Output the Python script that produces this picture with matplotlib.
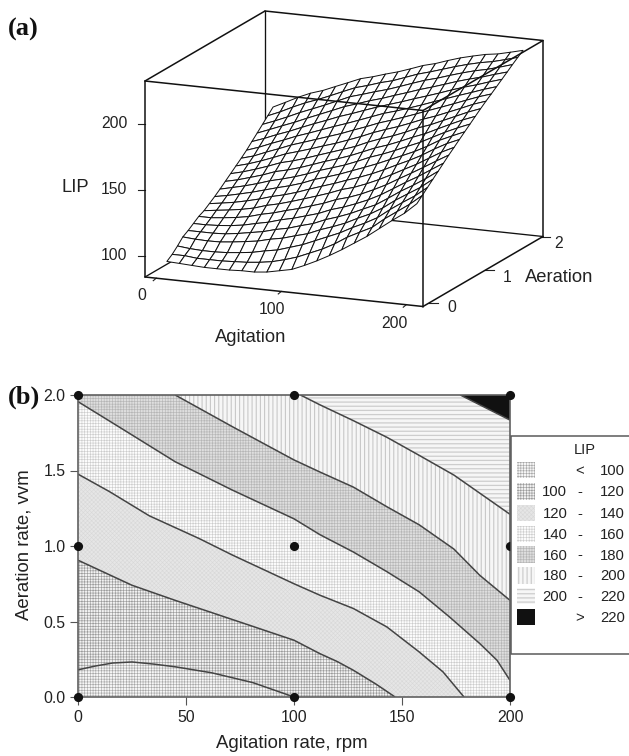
import numpy as np
import matplotlib
matplotlib.use("Agg")
import matplotlib.pyplot as plt
from matplotlib.patches import Polygon, Rectangle
from matplotlib.collections import PolyCollection

W, H = 629, 756
plt.rcParams['font.family'] = ['Liberation Sans', 'DejaVu Sans']

# ---- data: surface (a). one list per agitation value, aeration 0..2 in 0.1 steps
agitation_grid = list(range(0, 201, 10))
aeration_grid = [i / 10 for i in range(21)]
lip_surface = [
 [92,95,99,103.5,106,109,112,114,117,120,123.3,126.8,130.3,133.8,137.3,141,145.2,149.3,153.5,157.7,162],
 [91.5,95,98,102.8,106,109,112,115.3,118.4,121.8,125.5,129,132.7,136.4,140,144.3,148.6,153,157.2,161.7,166.6],
 [91,94,97.5,102.5,106,109.5,113,116.5,120,124,127.8,131.8,135.7,139.6,143.9,148.2,152.5,156.8,161.2,166.3,171.4],
 [90.5,94,97.5,102.7,106.5,110.4,114.2,118,122.1,126.3,130.5,134.7,139,143.2,147.5,151.8,156,160.5,165.5,170.5,175.5],
 [90.5,94,98,103.7,107.8,111.8,115.9,120,124.5,129,133.6,138.2,142.6,147,151.3,155.7,160,164.6,169.3,174,178.6],
 [90.5,94.5,99,105,109.5,114,118.6,123,127.4,131.7,136,140.5,145,149.8,154.4,159,163.8,168.5,173.2,177.9,182.6],
 [91,95,100.2,106.4,111.2,116,120.7,125.2,129.7,134.2,138.7,143.3,148,152.8,157.6,162.5,167.4,172.4,177.3,182,186.5],
 [91,96,102.3,108.8,113.8,118.8,123.5,128,132.6,137.2,141.9,146.6,151.3,156,160.8,166,171.2,176.4,181.5,186,190.5],
 [92,97.5,104,110.6,115.8,121,126,131,136,141,145.5,150,154.5,159,164,169.3,174.4,179.5,184.3,188.7,193],
 [94,100,107,113.4,118.7,123.8,129,134.1,139.2,143.9,148.5,153,157.7,162.5,167.7,172.8,177.9,182.8,187.3,191.8,196],
 [96,103,110,116,121.3,126.6,132,137.3,142.3,147,151.6,156.3,161,166.1,171.2,176.4,181.3,185.6,190,194.3,198.7],
 [100,107,114,120,125.3,130.5,135.8,141,145.8,150.6,155.4,160.2,165.2,170.1,175,180,184.4,188.9,193.3,197.8,202],
 [104.5,111,118,123.3,128.4,133.4,138.5,143.7,149,154.2,159.5,164.2,168.8,173.5,178.1,182.8,187.4,192,196.7,201.3,205.5],
 [109.5,116,122,127,132,137,142,147.4,152.6,157.9,162.8,167.4,172,176.7,181.4,186,190.7,195.3,200,204,208],
 [115,122,127,131.7,136.3,141,146.3,151.6,156.8,162,166.6,171.2,175.8,180.4,184.9,189.3,193.8,198.2,202.6,207,211.3],
 [121,126.8,131.4,136,140.5,145.8,151,156.3,161.4,166,170.7,175.3,180,184.3,188.5,192.8,197,201.3,205.7,210,214.3],
 [127,131.5,136.5,141.5,146.5,151.5,156.5,161.3,165.8,170.2,174.7,179,183.4,187.7,192,196.2,200.4,204.5,208.6,212.7,216.7],
 [134,139,143.6,148.3,152.8,157.3,161.8,166.2,170.7,175.1,179.6,183.6,187.6,191.6,195.6,199.6,203.5,207.3,211.2,215,218.9],
 [141,145.5,150,154.2,158.3,162.7,167.3,171.8,176.4,180.7,184.4,188.1,191.8,195.5,199.3,202.8,206.3,209.8,213.3,216.8,220.3],
 [147.5,152,156,160,164.3,168.7,173,177.4,181.5,185,188.7,192.4,196,199.6,202.9,206.2,209.5,212.8,216,219.3,222.6],
 [155.8,159.6,163.4,167.2,170.9,174.7,178.5,182,185.6,189.1,192.6,196.1,199.6,202.9,206,209.2,212.4,215.6,218.9,222,225],
]
agitation_ticks_a = [0, 100, 200]
aeration_ticks_a = [0, 1, 2]
lip_ticks_a = [100, 150, 200]

# ---- data: contours (b)
c100_x = [0, 8, 16, 25, 35, 45, 62, 81, 92, 100]
c100_y = [0.18, 0.205, 0.225, 0.232, 0.218, 0.20, 0.16, 0.095, 0.04, 0.0]
c120_x = [0, 25, 45, 71.5, 100, 112, 120, 127.5, 138, 146.8]
c120_y = [0.906, 0.74, 0.64, 0.513, 0.376, 0.287, 0.235, 0.177, 0.085, 0.0]
c140_x = [0, 14.6, 33, 56, 71.5, 100, 112, 127.5, 143, 158, 169, 178.7]
c140_y = [1.476, 1.36, 1.2, 1.05, 0.94, 0.75, 0.674, 0.586, 0.464, 0.298, 0.166, 0.0]
c160_x = [0, 17.7, 45, 71.5, 100, 112, 127.5, 143, 158, 172, 186, 194, 200]
c160_y = [1.956, 1.80, 1.558, 1.37, 1.18, 1.075, 0.96, 0.83, 0.696, 0.53, 0.354, 0.243, 0.11]
c180_x = [45, 71.5, 100, 112, 127.5, 143, 158, 174, 186, 200]
c180_y = [2.0, 1.79, 1.57, 1.49, 1.39, 1.26, 1.14, 0.98, 0.806, 0.64]
c200_x = [103, 112, 127.5, 143, 158, 174, 189.5, 200]
c200_y = [2.0, 1.935, 1.83, 1.72, 1.6, 1.47, 1.315, 1.21]
c220_x = [177, 200]
c220_y = [2.0, 1.834]
contours = [(c100_x, c100_y), (c120_x, c120_y), (c140_x, c140_y), (c160_x, c160_y),
            (c180_x, c180_y), (c200_x, c200_y), (c220_x, c220_y)]

design_x = [0, 100, 200, 0, 100, 200, 0, 100, 200]
design_y = [0, 0, 0, 1, 1, 1, 2, 2, 2]
xticks_b = [0, 50, 100, 150, 200]
yticks_b = [0.0, 0.5, 1.0, 1.5, 2.0]
legend_low = ['', '100', '120', '140', '160', '180', '200', '']
legend_sep = ['<', '-', '-', '-', '-', '-', '-', '>']
legend_high = ['100', '120', '140', '160', '180', '200', '220', '220']

# band styles: face, hatch colour, hatch, hatch line width
band_styles = [
    ('#f6f6f6', '#a6a6a6', '+' * 6, 0.42),
    ('#f2f2f2', '#9c9c9c', '+' * 6, 0.45),
    ('#e6e6e6', '#d8d8d8', 'x' * 8, 0.40),
    ('#fcfcfc', '#cccccc', '+' * 6, 0.42),
    ('#dedede', '#b6b6b6', '+' * 6, 0.45),
    ('#f6f6f6', '#c8c8c8', '|' * 4, 0.80),
    ('#f6f6f6', '#cdcdcd', '-' * 4, 0.90),
    ('#111111', '#111111', None, 0.4),
]


def band_kwargs(i):
    face, hc, hatch, hlw = band_styles[i]
    plt.rcParams['hatch.linewidth'] = hlw
    return dict(facecolor=face, edgecolor=hc, hatch=hatch, linewidth=0)


fig = plt.figure(figsize=(W / 100, H / 100), dpi=100, facecolor='white')

# ================= panel (a): orthographic box in a pixel-scaled overlay axes
ov = fig.add_axes([0, 0, 1, 1])
ov.set_xlim(0, W)
ov.set_ylim(H, 0)
ov.axis('off')

XR = (-9.0, 213.4)
YR = (-0.2, 2.06)
ZR = (84.0, 232.4)


def project(x, y, z):
    u = (np.asarray(x, float) - XR[0]) / (XR[1] - XR[0])
    v = (np.asarray(y, float) - YR[0]) / (YR[1] - YR[0])
    w = (np.asarray(z, float) - ZR[0]) / (ZR[1] - ZR[0])
    return 145 + 278 * u + 120 * v, 277 + 29.5 * u - 70 * v - 196 * w


def edge(a, b, **kw):
    xa, ya = project(*a)
    xb, yb = project(*b)
    ov.plot([xa, xb], [ya, yb], color='#111111', lw=kw.get('lw', 1.1), zorder=kw.get('z', 5),
            solid_capstyle='round')


x0, x1 = XR
y0, y1 = YR
z0, z1 = ZR
# back edges, hidden by the surface
for a, b in [((x0, y1, z1), (x0, y1, z0)), ((x0, y1, z0), (x1, y1, z0)), ((x0, y0, z0), (x0, y1, z0))]:
    edge(a, b, z=1, lw=0.95)

# surface
Z = np.array(lip_surface)
AX, AY = np.meshgrid(agitation_grid, aeration_grid, indexing='ij')
PX, PY = project(AX, AY, Z)
cells = []
for j in range(Z.shape[1] - 2, -1, -1):
    for i in range(Z.shape[0] - 1):
        cells.append([(PX[i, j], PY[i, j]), (PX[i + 1, j], PY[i + 1, j]),
                      (PX[i + 1, j + 1], PY[i + 1, j + 1]), (PX[i, j + 1], PY[i, j + 1])])
ov.add_collection(PolyCollection(cells, facecolors='white', edgecolors='#111111', linewidths=0.72, zorder=2))

# visible box edges
for a, b in [((x0, y0, z1), (x1, y0, z1)), ((x0, y0, z1), (x0, y1, z1)), ((x0, y1, z1), (x1, y1, z1)),
             ((x1, y0, z1), (x1, y1, z1)), ((x0, y0, z0), (x0, y0, z1)), ((x1, y0, z0), (x1, y0, z1)),
             ((x1, y1, z0), (x1, y1, z1)), ((x0, y0, z0), (x1, y0, z0)), ((x1, y0, z0), (x1, y1, z0))]:
    edge(a, b)

# ticks
for v in lip_ticks_a:
    px, py = project(x0, y0, v)
    ov.plot([px - 7.5, px], [py, py], color='#222222', lw=0.8, zorder=4)
for v in agitation_ticks_a:
    px, py = project(v, y0, z0)
    ov.plot([px - 3, px], [py + 2.5, py], color='#222222', lw=0.8, zorder=4)
tick_span = (-0.1, 2.03)
xs, ys = project(x1, y0, z0)
xe, ye = project(x1, y1, z0)
for v in aeration_ticks_a:
    f = (v - tick_span[0]) / (tick_span[1] - tick_span[0])
    px, py = xs + f * (xe - xs), ys + f * (ye - ys)
    ov.plot([px, px + 9], [py, py], color='#222222', lw=0.8, zorder=4)

TICK = 11.3
LAB = 13.2
col = '#222222'
for v, yy in zip(lip_ticks_a, (256, 190, 124)):
    ov.text(127.5, yy, str(v), ha='right', va='center', fontsize=TICK, color=col)
for v, xx, yy in zip(agitation_ticks_a, (142, 272.5, 394), (296, 309, 324)):
    ov.text(xx, yy, str(v), ha='center', va='center', fontsize=TICK, color=col)
for v, xx, yy in zip(aeration_ticks_a, (452, 507, 558.5), (307, 277, 244)):
    ov.text(xx, yy, str(v), ha='center', va='center', fontsize=TICK, color=col)
ov.text(75, 187.5, 'LIP', ha='center', va='center', fontsize=LAB, color=col)
ov.text(250.5, 338, 'Agitation', ha='center', va='center', fontsize=LAB, color=col)
ov.text(559, 277.5, 'Aeration', ha='center', va='center', fontsize=LAB, color=col)
ov.text(8, 29, '(a)', ha='left', va='center', fontsize=19, fontweight='bold', family='Liberation Serif', color='#111111')
ov.text(8, 397.5, '(b)', ha='left', va='center', fontsize=19, fontweight='bold', family='Liberation Serif', color='#111111', zorder=20)

# ================= panel (b)
L, R, T, B = 78, 510, 395, 697
ax = fig.add_axes([L / W, 1 - B / H, (R - L) / W, (B - T) / H])
ax.patch.set_alpha(0)
ax.set_xlim(0, 200)
ax.set_ylim(0, 2)
xmin, xmax = ax.get_xlim()
ymin, ymax = ax.get_ylim()
ax.add_patch(Rectangle((xmin, ymin), xmax - xmin, ymax - ymin, zorder=1, **band_kwargs(0)))
for k, (cx, cy) in enumerate(contours):
    pts = list(zip(cx, cy))
    if cy[-1] == ymin:
        pts.append((xmax, ymin))
    pts.append((xmax, ymax))
    if cx[0] == xmin:
        pts.append((xmin, ymax))
    ax.add_patch(Polygon(pts, closed=True, zorder=1 + k * 0.01 + 0.01, **band_kwargs(k + 1)))
for k, (cx, cy) in enumerate(contours):
    ax.plot(cx, cy, color='#444444', lw=1.1, zorder=2, solid_capstyle='butt', solid_joinstyle='round')

ax.plot(design_x, design_y, 'o', color='#111111', ms=6.6, mew=0, clip_on=False, zorder=3)
ax.set_xticks(xticks_b)
ax.set_yticks(yticks_b)
ax.set_yticklabels([f'{v:.1f}' for v in yticks_b])
ax.tick_params(length=5.5, width=0.8, color='#555555', labelsize=11.4, labelcolor=col, pad=3.5)
for s in ax.spines.values():
    s.set_color('#606060')
    s.set_linewidth(1.2)
    s.set_zorder(2.5)
ov.text((L + R) / 2 - 2, 744, 'Agitation rate, rpm', ha='center', va='center', fontsize=13.4, color=col)
ov.text(24, 545, 'Aeration rate, vvm', ha='center', va='center', rotation=90, fontsize=13.4, color=col)

# ================= legend, hand-laid as in the source
lg = fig.add_axes([0, 0, 1, 1], zorder=5)
lg.set_xlim(0, W)
lg.set_ylim(H, 0)
lg.axis('off')
lg.add_patch(Rectangle((510.5, 436), 125, 218, facecolor='white', edgecolor='#5a5a5a', linewidth=1.1, zorder=1))
lg.text(584.7, 449.5, 'LIP', ha='center', va='center', fontsize=10.5, color=col, zorder=3)
row_y = [470, 491.5, 513, 534, 554.5, 575.5, 596, 617]
for i, yy in enumerate(row_y):
    lg.add_patch(Rectangle((517, yy - 8.3), 18, 16.6, zorder=2, **band_kwargs(i)))
    lg.text(567.3, yy + 1, legend_low[i], ha='right', va='center', fontsize=10.7, color=col, zorder=3)
    lg.text(580, yy + 1, legend_sep[i], ha='center', va='center', fontsize=10.7, color=col, zorder=3)
    lg.text(625, yy + 1, legend_high[i], ha='right', va='center', fontsize=10.7, color=col, zorder=3)

fig.savefig('out.png', dpi=100, facecolor='white')
